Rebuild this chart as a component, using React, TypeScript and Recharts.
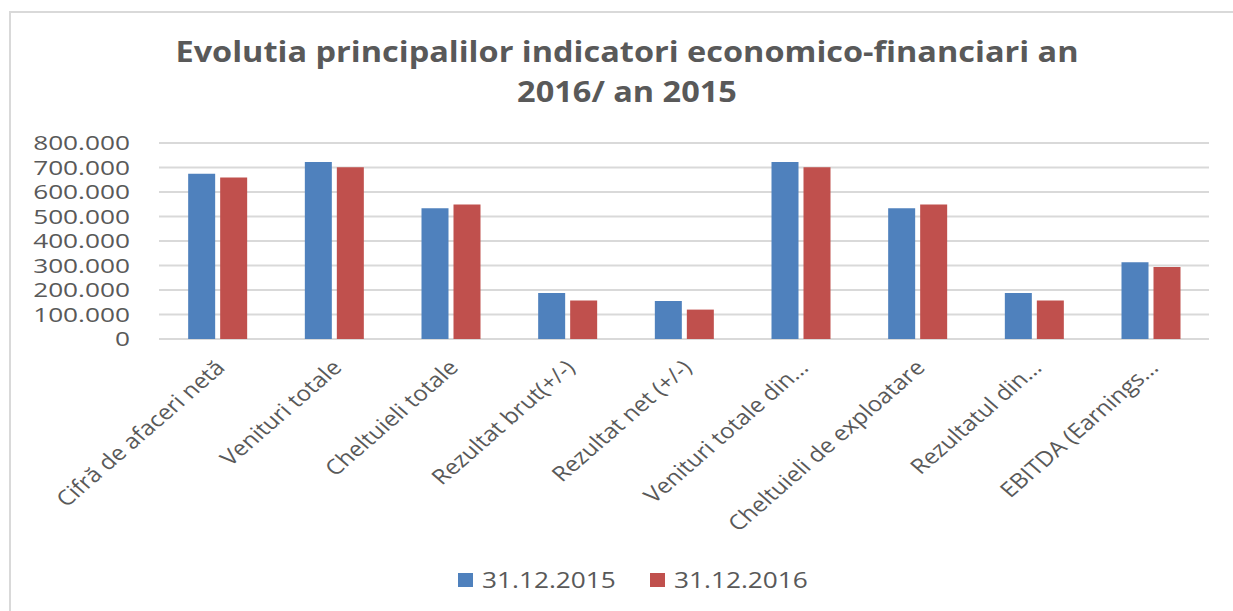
import React from "react";
import { BarChart, Bar, XAxis, YAxis, CartesianGrid } from "recharts";

const categories = [
  "Cifră de afaceri netă",
  "Venituri totale",
  "Cheltuieli totale",
  "Rezultat brut(+/-)",
  "Rezultat net (+/-)",
  "Venituri totale din...",
  "Cheltuieli de exploatare",
  "Rezultatul din...",
  "EBITDA (Earnings...",
];
const series2015 = [675000, 722000, 534000, 188000, 155000, 722000, 534000, 188000, 313000];
const series2016 = [659000, 701000, 549000, 157000, 120000, 701000, 549000, 157000, 294000];
const seriesNames = ["31.12.2015", "31.12.2016"];
const seriesColors = ["#4F81BD", "#C0504D"];
const yTicks = [0, 100000, 200000, 300000, 400000, 500000, 600000, 700000, 800000];
const titleLines = ["Evolutia principalilor indicatori economico-financiari an", "2016/ an 2015"];

const data = categories.map((c, i) => ({ name: c, a: series2015[i], b: series2016[i] }));

const fmt = (v: number) => (v === 0 ? "0" : v.toLocaleString("de-DE"));
const FONT = "'Open Sans', sans-serif";
const TXT = "#595959";

const YTick = (props: any) => {
  const { x, y, payload } = props;
  return (
    <g transform={`translate(${x},${y}) scale(1.28,1)`}>
      <text x={0} y={0} dy={7} textAnchor="end" fontFamily={FONT} fontSize={20.5} fill={TXT}>
        {fmt(payload.value)}
      </text>
    </g>
  );
};

const XTick = (props: any) => {
  const { x, y, payload } = props;
  return (
    <g transform={`translate(${x + 9},${y + 22}) scale(1.15,1) rotate(-45)`}>
      <text x={0} y={0} textAnchor="end" fontFamily={FONT} fontSize={21} fill={TXT}>
        {payload.value}
      </text>
    </g>
  );
};

export default function App() {
  return (
    <div style={{ position: "absolute", left: 0, top: 0, width: 1233, height: 611, overflow: "hidden", background: "#fff" }}>
      <div style={{ position: "absolute", left: 9, top: 11, width: 1400, height: 800, borderTop: "2px solid #d9d9d9", borderLeft: "2px solid #d9d9d9" }} />
      <div style={{ position: "absolute", left: 0, top: 0 }}>
        <BarChart
          width={1233}
          height={611}
          data={data}
          margin={{ top: 143, right: 24, bottom: 0, left: 0 }}
          barGap={5}
          barCategoryGap="25%"
        >
          <CartesianGrid vertical={false} stroke="#d9d9d9" strokeWidth={2} />
          <XAxis dataKey="name" height={272} axisLine={false} tickLine={false} interval={0} tick={<XTick />} />
          <YAxis
            width={159}
            domain={[0, 800000]}
            ticks={yTicks}
            axisLine={false}
            tickLine={false}
            tickMargin={23}
            tick={<YTick />}
          />
          <Bar dataKey="a" fill={seriesColors[0]} isAnimationActive={false} />
          <Bar dataKey="b" fill={seriesColors[1]} isAnimationActive={false} />
        </BarChart>
      </div>
      <svg style={{ position: "absolute", left: 0, top: 0 }} width={1233} height={611}>
        <g transform="translate(627,0) scale(1.16,1)">
          {titleLines.map((t, i) => (
            <text key={i} x={0} y={62 + i * 40} textAnchor="middle" fontFamily={FONT} fontWeight={700} fontSize={28} fill={TXT}>
              {t}
            </text>
          ))}
        </g>
        {seriesNames.map((n, i) => (
          <g key={n} transform={`translate(${458 + i * 192},0)`}>
            <rect x={0} y={573} width={15} height={14} fill={seriesColors[i]} />
            <g transform="translate(24,588) scale(1.25,1)">
              <text x={0} y={0} fontFamily={FONT} fontSize={21} fill={TXT}>{n}</text>
            </g>
          </g>
        ))}
      </svg>
    </div>
  );
}
